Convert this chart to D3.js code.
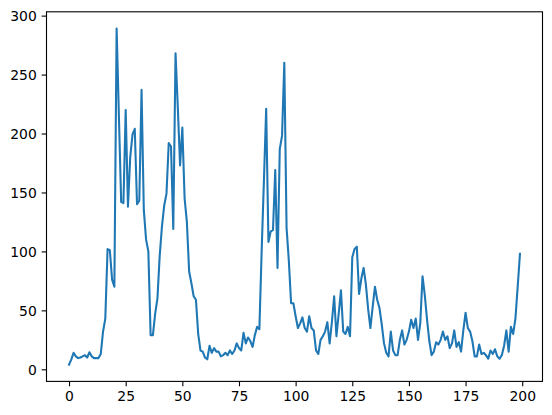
<!DOCTYPE html>
<meta charset="utf-8">
<style>
body{ margin:0; background:#fff; }
text { font-family: "DejaVu Sans", sans-serif; font-size: 13.9px; fill:#000; }
</style>
<body>
<script src="https://d3js.org/d3.v7.min.js"></script>
<script>

// valores (indice 0..199)
var values = [
  4, 8.5, 14, 11, 9.5, 10, 11, 12, 10, 14.5,
  11, 9.5, 9.5, 9.5, 13, 32, 43, 102, 101, 76,
  70, 289, 215, 142, 141, 220, 138, 180, 199, 204,
  140, 143, 237, 135, 110, 100, 29, 29, 47, 60,
  96, 121, 139, 149, 192, 189, 119, 268, 222, 173,
  205, 145, 125, 83, 73, 62, 59, 30, 16, 15,
  10, 8.5, 20, 14, 18, 15, 15, 11, 12, 14,
  12, 16, 13, 16, 22, 18, 16, 31, 22, 27,
  24, 19, 29, 36, 34, 100, 160, 221, 108, 117,
  118, 169, 86, 187, 198, 260, 120, 92, 56, 56,
  45, 35, 39, 44, 35, 32, 45, 35, 33, 16,
  13, 25, 28, 32, 40, 22, 40, 62, 28, 47,
  67, 32, 30, 36, 28, 95, 102, 104, 64, 77,
  86, 72, 51, 35, 53, 70, 59, 52, 38, 22,
  14, 11, 32, 16, 12, 12, 25, 33, 21, 25,
  32, 42, 35, 43, 25, 39, 79, 63, 42, 24,
  12, 15, 23, 21, 25, 32, 25, 28, 18, 22,
  33, 19, 23, 15, 33, 48, 35, 32, 24, 11,
  11, 21, 13, 14, 12, 9, 16, 13, 17, 11,
  9, 12, 20, 33, 15, 36, 30, 43, 70, 98
];
var xTicks = [0, 25, 50, 75, 100, 125, 150, 175, 200];
var yTicks = [0, 50, 100, 150, 200, 250, 300];

var width = 552,
    height = 415,
    margin = {top: 11.8, right: 9.5, bottom: 33.6, left: 46.5},
    w = width - margin.left - margin.right,
    h = height - margin.top - margin.bottom;

// margenes de 5% como matplotlib
var xmax = values.length - 1,
    ymin = d3.min(values), ymax = d3.max(values),
    xpad = xmax * 0.05, ypad = (ymax - ymin) * 0.05;

var x = d3.scaleLinear().domain([-xpad, xmax + xpad]).range([0, w]);
var y = d3.scaleLinear().domain([ymin - ypad, ymax + ypad]).range([h, 0]);

var svg = d3.select("body").append("svg")
    .attr("width", width)
    .attr("height", height);
var g = svg.append("g")
    .attr("transform", "translate(" + margin.left + "," + margin.top + ")");

var line = d3.line()
    .x(function(d, i) { return x(i); })
    .y(function(d) { return y(d); });

g.append("path")
    .datum(values)
    .attr("fill", "none")
    .attr("stroke", "#1f77b4")
    .attr("stroke-width", 2.08)
    .attr("stroke-linejoin", "round")
    .attr("stroke-linecap", "square")
    .attr("d", line);

// ejes
var xAxis = g.append("g")
    .attr("transform", "translate(0," + h + ")")
    .call(d3.axisBottom(x).tickValues(xTicks).tickSize(4.86).tickPadding(4.86).tickFormat(d3.format("d")));
var yAxis = g.append("g")
    .call(d3.axisLeft(y).tickValues(yTicks).tickSize(4.86).tickPadding(4.86).tickFormat(d3.format("d")));

[xAxis, yAxis].forEach(function(a) {
  a.select(".domain").remove();
  a.selectAll("line").attr("stroke", "#000").attr("stroke-width", 1.1);
  a.selectAll("text").attr("font-family", "DejaVu Sans").attr("font-size", 13.9).attr("fill", "#000");
});
xAxis.selectAll("text").attr("dy", "0.72em");
yAxis.selectAll("text").attr("dy", "0.36em");

// marco
g.append("rect")
    .attr("width", w)
    .attr("height", h)
    .attr("fill", "none")
    .attr("stroke", "#000")
    .attr("stroke-width", 1.1);

</script>
